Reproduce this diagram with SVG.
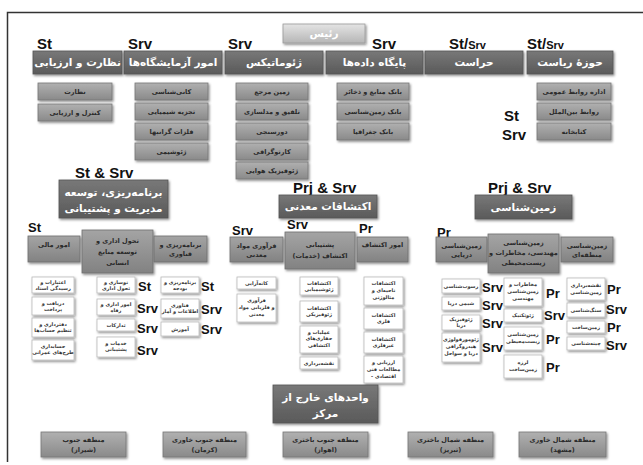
<svg xmlns="http://www.w3.org/2000/svg" width="643" height="465" viewBox="0 0 643 465">
<defs>
<linearGradient id="gdk" x1="0" y1="0" x2="0" y2="1"><stop offset="0" stop-color="#787878"/><stop offset="1" stop-color="#5a5a5a"/></linearGradient>
<linearGradient id="gmd" x1="0" y1="0" x2="0" y2="1"><stop offset="0" stop-color="#b0b0b0"/><stop offset="1" stop-color="#8a8a8a"/></linearGradient>
<linearGradient id="gm2" x1="0" y1="0" x2="0" y2="1"><stop offset="0" stop-color="#a4a4a4"/><stop offset="1" stop-color="#828282"/></linearGradient>
<linearGradient id="glt" x1="0" y1="0" x2="0" y2="1"><stop offset="0" stop-color="#e4e4e4"/><stop offset="1" stop-color="#b6b6b6"/></linearGradient>
<filter id="sh" x="-20%" y="-20%" width="140%" height="150%"><feDropShadow dx="1.2" dy="1.5" stdDeviation="0.9" flood-color="#000" flood-opacity="0.45"/></filter>
</defs>
<style>
.dk{fill:url(#gdk);stroke:#555;stroke-width:0.8;filter:url(#sh)}
.md{fill:url(#gmd);stroke:#777;stroke-width:0.8;filter:url(#sh)}
.m2{fill:url(#gm2);stroke:#6f6f6f;stroke-width:0.8;filter:url(#sh)}
.lt{fill:url(#glt);stroke:#999;stroke-width:0.8;filter:url(#sh)}
.wt{fill:#fff;stroke:#bbb;stroke-width:0.8;filter:url(#sh)}
.td{font-family:"DejaVu Sans",sans-serif;font-size:10.5px;fill:#fff;text-anchor:middle;font-weight:bold}
.tm{font-family:"DejaVu Sans",sans-serif;font-size:6.5px;fill:#2a2a2a;text-anchor:middle;font-weight:bold}
.tw{font-family:"DejaVu Sans",sans-serif;font-size:5px;fill:#333;text-anchor:middle;font-weight:bold}
.lb{font-family:"Liberation Sans",Arial,sans-serif;font-weight:bold;font-size:15px;fill:#111}
.ls{font-family:"Liberation Sans",Arial,sans-serif;font-weight:bold;font-size:13px;fill:#111}
</style>
<rect width="643" height="465" fill="#fff"/>
<path d="M7.5,462 V12.5 H643" fill="none" stroke="#333" stroke-width="1.5"/>
<g id="connectors"/>

<g id="labels">
<text class="lb" x="37" y="49">St</text>
<text class="lb" x="128" y="49">Srv</text>
<text class="lb" x="228" y="49">Srv</text>
<text class="lb" x="372" y="49">Srv</text>
<text class="lb" x="449" y="49">St/<tspan font-size="11">Srv</tspan></text>
<text class="lb" x="527" y="49">St/<tspan font-size="11">Srv</tspan></text>
<text class="lb" x="504" y="121">St</text>
<text class="lb" x="502" y="140">Srv</text>
<text class="lb" x="75" y="178" font-size="16">St &amp; Srv</text>
<text class="lb" x="293" y="193" font-size="16">Prj &amp; Srv</text>
<text class="lb" x="488" y="193" font-size="16">Prj &amp; Srv</text>
<text class="ls" x="28" y="232">St</text>
<text class="ls" x="232" y="235">Srv</text>
<text class="ls" x="287" y="229">Srv</text>
<text class="ls" x="359" y="233">Pr</text>
<text class="ls" x="437" y="237">Pr</text>
<text class="ls" x="138" y="291">St</text>
<text class="ls" x="137" y="313">Srv</text>
<text class="ls" x="137" y="333">Srv</text>
<text class="ls" x="137" y="355">Srv</text>
<text class="ls" x="201" y="291">St</text>
<text class="ls" x="201" y="314">Srv</text>
<text class="ls" x="201" y="334">Srv</text>
<text class="ls" x="482" y="292">Srv</text>
<text class="ls" x="482" y="310">Srv</text>
<text class="ls" x="482" y="328">Srv</text>
<text class="ls" x="482" y="352">Srv</text>
<text class="ls" x="546" y="298">Pr</text>
<text class="ls" x="544" y="320">Srv</text>
<text class="ls" x="546" y="344">Pr</text>
<text class="ls" x="546" y="372">Pr</text>
<text class="ls" x="607" y="294">Pr</text>
<text class="ls" x="606" y="314">Srv</text>
<text class="ls" x="607" y="332">Pr</text>
<text class="ls" x="606" y="350">Srv</text>
</g>

<g id="n-raees"><rect class="lt" x="283" y="24" width="82" height="19"/><text class="td" x="324" y="37" fill="#f4f4f4" font-weight="normal">رئیس</text></g>

<g id="n-nezarat-arzyabi"><rect class="dk" x="33" y="51" width="89" height="23"/><text class="td" x="77.5" y="66">نظارت و ارزیابی</text></g>
<g id="n-azmayeshgah"><rect class="dk" x="124" y="51" width="98" height="23"/><text class="td" x="173" y="66">امور آزمایشگاه‌ها</text></g>
<g id="n-geomatics"><rect class="dk" x="225" y="51" width="98" height="23"/><text class="td" x="274" y="66">ژئوماتیکس</text></g>
<g id="n-database"><rect class="dk" x="326" y="51" width="97" height="23"/><text class="td" x="374.5" y="66">پایگاه داده‌ها</text></g>
<g id="n-herasat"><rect class="dk" x="425" y="51" width="98" height="23"/><text class="td" x="474" y="66">حراست</text></g>
<g id="n-riasat"><rect class="dk" x="527" y="51" width="86" height="23"/><text class="td" x="570" y="66">حوزهٔ ریاست</text></g>

<g id="n-nezarat"><rect class="md" x="38" y="83" width="74" height="17"/><text class="tm" x="75" y="94">نظارت</text></g>
<g id="n-kontrol"><rect class="md" x="38" y="104" width="74" height="17"/><text class="tm" x="75" y="115">کنترل و ارزیابی</text></g>

<g id="n-kani"><rect class="md" x="135" y="83" width="73" height="17"/><text class="tm" x="171.5" y="94">کانی‌شناسی</text></g>
<g id="n-tajzie"><rect class="md" x="135" y="103" width="73" height="17"/><text class="tm" x="171.5" y="114">تجزیه شیمیایی</text></g>
<g id="n-felezat"><rect class="md" x="135" y="123" width="73" height="17"/><text class="tm" x="171.5" y="134">فلزات گرانبها</text></g>
<g id="n-geoshimi"><rect class="md" x="135" y="143" width="73" height="17"/><text class="tm" x="171.5" y="154">ژئوشیمی</text></g>

<g id="n-zamin-marja"><rect class="md" x="236" y="83" width="72" height="17"/><text class="tm" x="272" y="94">زمین مرجع</text></g>
<g id="n-talfigh"><rect class="md" x="236" y="103" width="72" height="17"/><text class="tm" x="272" y="114">تلفیق و مدلسازی</text></g>
<g id="n-doursanji"><rect class="md" x="236" y="123" width="72" height="17"/><text class="tm" x="272" y="134">دورسنجی</text></g>
<g id="n-kartography"><rect class="md" x="236" y="143" width="72" height="17"/><text class="tm" x="272" y="154">کارتوگرافی</text></g>
<g id="n-geophysic-havaei"><rect class="md" x="236" y="162" width="72" height="17"/><text class="tm" x="272" y="173">ژئوفیزیک هوایی</text></g>

<g id="n-bank-manabe"><rect class="md" x="337" y="83" width="72" height="17"/><text class="tm" x="373" y="94">بانک منابع و ذخائر</text></g>
<g id="n-bank-zamin"><rect class="md" x="337" y="103" width="72" height="17"/><text class="tm" x="373" y="114">بانک زمین‌شناسی</text></g>
<g id="n-bank-joghrafia"><rect class="md" x="337" y="123" width="72" height="17"/><text class="tm" x="373" y="134">بانک جغرافیا</text></g>

<g id="n-ravabet-omoomi"><rect class="md" x="537" y="83" width="74" height="17"/><text class="tm" x="574" y="94">اداره روابط عمومی</text></g>
<g id="n-ravabet-bein"><rect class="md" x="537" y="103" width="74" height="17"/><text class="tm" x="574" y="114">روابط بین‌الملل</text></g>
<g id="n-ketabkhane"><rect class="md" x="537" y="123" width="74" height="17"/><text class="tm" x="574" y="134">کتابخانه</text></g>

<g id="n-barnamerizi-tosee"><rect class="dk" x="59" y="180" width="109" height="38"/><text class="td" x="113.5" y="196">برنامه‌ریزی، توسعه</text><text class="td" x="113.5" y="212">مدیریت و پشتیبانی</text></g>
<g id="n-ekteshafat-madani"><rect class="dk" x="279" y="195" width="98" height="23"/><text class="td" x="328" y="210">اکتشافات معدنی</text></g>
<g id="n-zaminshenasi"><rect class="dk" x="475" y="195" width="97" height="24"/><text class="td" x="523.5" y="211">زمین‌شناسی</text></g>

<g id="n-mali"><rect class="m2" x="28" y="236" width="52" height="26"/><text class="tm" x="54" y="247">امور مالی</text></g>
<g id="n-tahavol"><rect class="m2" x="82" y="230" width="71" height="43"/><text class="tm" x="117.5" y="243" font-size="7.5">تحول اداری و</text><text class="tm" x="117.5" y="254" font-size="7.5">توسعه منابع</text><text class="tm" x="117.5" y="265" font-size="7.5">انسانی</text></g>
<g id="n-barname-fanavari"><rect class="m2" x="154" y="236" width="53" height="26"/><text class="tm" x="180.5" y="247">برنامه‌ریزی و</text><text class="tm" x="180.5" y="256">فناوری</text></g>
<g id="n-faravari"><rect class="m2" x="230" y="237" width="53" height="25"/><text class="tm" x="256.5" y="248">فرآوری مواد</text><text class="tm" x="256.5" y="257">معدنی</text></g>
<g id="n-poshtibani"><rect class="m2" x="285" y="232" width="70" height="37"/><text class="tm" x="320" y="247">پشتیبانی</text><text class="tm" x="320" y="258">(خدمات) اکتشاف</text></g>
<g id="n-omur-ekteshaf"><rect class="m2" x="357" y="237" width="51" height="25"/><text class="tm" x="382.5" y="247">امور اکتشاف</text></g>
<g id="n-daryaei"><rect class="m2" x="436" y="237" width="51" height="25"/><text class="tm" x="461.5" y="248">زمین‌شناسی</text><text class="tm" x="461.5" y="257">دریایی</text></g>
<g id="n-mohandesi"><rect class="m2" x="488" y="234" width="71" height="39"/><text class="tm" x="523.5" y="245">زمین‌شناسی</text><text class="tm" x="523.5" y="255">مهندسی، مخاطرات و</text><text class="tm" x="523.5" y="265">زیست‌محیطی</text></g>
<g id="n-mantaghei"><rect class="m2" x="561" y="237" width="52" height="25"/><text class="tm" x="587" y="248">زمین‌شناسی</text><text class="tm" x="587" y="257">منطقه‌ای</text></g>

<g id="n-etebarat"><rect class="wt" x="32" y="277" width="42" height="16"/><text class="tw" x="53" y="284">اعتبارات و</text><text class="tw" x="53" y="290">رسیدگی اسناد</text></g>
<g id="n-daryaft"><rect class="wt" x="32" y="297" width="42" height="18"/><text class="tw" x="53" y="305">دریافت و</text><text class="tw" x="53" y="311">پرداخت</text></g>
<g id="n-daftardari"><rect class="wt" x="32" y="318" width="42" height="19"/><text class="tw" x="53" y="326">دفترداری و</text><text class="tw" x="53" y="332">تنظیم حساب‌ها</text></g>
<g id="n-hesabdari"><rect class="wt" x="32" y="340" width="42" height="20"/><text class="tw" x="53" y="348">حسابداری</text><text class="tw" x="53" y="354">طرح‌های عمرانی</text></g>

<g id="n-nosazi"><rect class="wt" x="97" y="277" width="38" height="16"/><text class="tw" x="116" y="284">نوسازی و</text><text class="tw" x="116" y="290">تحول اداری</text></g>
<g id="n-edari-refah"><rect class="wt" x="97" y="299" width="38" height="16"/><text class="tw" x="116" y="306">امور اداری و</text><text class="tw" x="116" y="312">رفاه</text></g>
<g id="n-tadarokat"><rect class="wt" x="97" y="319" width="38" height="12"/><text class="tw" x="116" y="327">تدارکات</text></g>
<g id="n-khadamat"><rect class="wt" x="97" y="337" width="38" height="20"/><text class="tw" x="116" y="345">خدمات و</text><text class="tw" x="116" y="351">پشتیبانی</text></g>

<g id="n-budje"><rect class="wt" x="161" y="277" width="38" height="16"/><text class="tw" x="180" y="284">برنامه‌ریزی و</text><text class="tw" x="180" y="290">بودجه</text></g>
<g id="n-fanavari-etelaat"><rect class="wt" x="161" y="299" width="38" height="19"/><text class="tw" x="180" y="307">فناوری</text><text class="tw" x="180" y="313">اطلاعات و آمار</text></g>
<g id="n-amoozesh"><rect class="wt" x="161" y="322" width="38" height="14"/><text class="tw" x="180" y="331">آموزش</text></g>

<g id="n-kanearaei"><rect class="wt" x="237" y="277" width="39" height="12"/><text class="tw" x="256.5" y="285">کانه‌آرایی</text></g>
<g id="n-faravari-felez"><rect class="wt" x="237" y="294" width="39" height="28"/><text class="tw" x="256.5" y="302">فرآوری</text><text class="tw" x="256.5" y="309">و فلزیابی مواد</text><text class="tw" x="256.5" y="316">معدنی</text></g>

<g id="n-ek-geoshimi"><rect class="wt" x="300" y="277" width="38" height="18"/><text class="tw" x="319" y="285">اکتشافات</text><text class="tw" x="319" y="291">ژئوشیمیایی</text></g>
<g id="n-ek-geofizik"><rect class="wt" x="300" y="301" width="38" height="21"/><text class="tw" x="319" y="310">اکتشافات</text><text class="tw" x="319" y="316">ژئوفیزیکی</text></g>
<g id="n-amaliat"><rect class="wt" x="300" y="326" width="38" height="27"/><text class="tw" x="319" y="334">عملیات و</text><text class="tw" x="319" y="340">حفاری‌های</text><text class="tw" x="319" y="347">اکتشافی</text></g>
<g id="n-naghshebardari"><rect class="wt" x="300" y="357" width="38" height="12"/><text class="tw" x="319" y="365">نقشه‌برداری</text></g>

<g id="n-ek-nahie"><rect class="wt" x="364" y="277" width="39" height="28"/><text class="tw" x="383.5" y="285">اکتشافات</text><text class="tw" x="383.5" y="292">ناحیه‌ای و</text><text class="tw" x="383.5" y="299">متالوژنی</text></g>
<g id="n-ek-felezi"><rect class="wt" x="364" y="308" width="39" height="21"/><text class="tw" x="383.5" y="317">اکتشافات</text><text class="tw" x="383.5" y="323">فلزی</text></g>
<g id="n-ek-gheirfelezi"><rect class="wt" x="364" y="332" width="39" height="21"/><text class="tw" x="383.5" y="341">اکتشافات</text><text class="tw" x="383.5" y="347">غیرفلزی</text></g>
<g id="n-arzyabi-fani"><rect class="wt" x="364" y="356" width="39" height="27"/><text class="tw" x="383.5" y="364">ارزیابی و</text><text class="tw" x="383.5" y="371">مطالعات فنی</text><text class="tw" x="383.5" y="378">- اقتصادی</text></g>

<g id="n-rosoob"><rect class="wt" x="442" y="279" width="38" height="14"/><text class="tw" x="461" y="288">رسوب‌شناسی</text></g>
<g id="n-shimi-darya"><rect class="wt" x="442" y="297" width="38" height="13"/><text class="tw" x="461" y="305">شیمی دریا</text></g>
<g id="n-geofizik-darya"><rect class="wt" x="442" y="315" width="38" height="15"/><text class="tw" x="461" y="321">ژئوفیزیک</text><text class="tw" x="461" y="327">دریا</text></g>
<g id="n-geomorfology"><rect class="wt" x="442" y="333" width="38" height="29"/><text class="tw" x="461" y="341">ژئومورفولوژی</text><text class="tw" x="461" y="348">هیدروگرافی</text><text class="tw" x="461" y="355">دریا و سواحل</text></g>

<g id="n-mokhaterat"><rect class="wt" x="504" y="278" width="38" height="28"/><text class="tw" x="523" y="286">مخاطرات و</text><text class="tw" x="523" y="293">زمین‌شناسی</text><text class="tw" x="523" y="300">مهندسی</text></g>
<g id="n-geotechnic"><rect class="wt" x="504" y="309" width="38" height="13"/><text class="tw" x="523" y="317">ژئوتکنیک</text></g>
<g id="n-zist"><rect class="wt" x="504" y="327" width="38" height="23"/><text class="tw" x="523" y="336">زمین‌شناسی</text><text class="tw" x="523" y="343">زیست‌محیطی</text></g>
<g id="n-larze"><rect class="wt" x="504" y="355" width="38" height="23"/><text class="tw" x="523" y="364">لرزه</text><text class="tw" x="523" y="371">زمین‌ساخت</text></g>

<g id="n-naghshe-zamin"><rect class="wt" x="567" y="278" width="38" height="22"/><text class="tw" x="586" y="287">نقشه‌برداری</text><text class="tw" x="586" y="294">زمین‌شناسی</text></g>
<g id="n-sang"><rect class="wt" x="567" y="303" width="38" height="14"/><text class="tw" x="586" y="312">سنگ‌شناسی</text></g>
<g id="n-zaminsakht"><rect class="wt" x="567" y="321" width="38" height="12"/><text class="tw" x="586" y="329">زمین‌ساخت</text></g>
<g id="n-chine"><rect class="wt" x="567" y="337" width="38" height="13"/><text class="tw" x="586" y="345">چینه‌شناسی</text></g>

<g id="n-kharej"><rect class="dk" x="273" y="385" width="105" height="38"/><text class="td" x="325.5" y="401" font-size="12">واحدهای خارج از</text><text class="td" x="325.5" y="417" font-size="12">مرکز</text></g>

<g id="n-shiraz"><rect class="md" x="41" y="432" width="85" height="25"/><text class="tm" x="83.5" y="442">منطقه جنوب</text><text class="tm" x="83.5" y="452">(شیراز)</text></g>
<g id="n-kerman"><rect class="md" x="163" y="432" width="83" height="25"/><text class="tm" x="204.5" y="442">منطقه جنوب خاوری</text><text class="tm" x="204.5" y="452">(کرمان)</text></g>
<g id="n-ahvaz"><rect class="md" x="283" y="432" width="85" height="25"/><text class="tm" x="325.5" y="442">منطقه جنوب باختری</text><text class="tm" x="325.5" y="452">(اهواز)</text></g>
<g id="n-tabriz"><rect class="md" x="408" y="432" width="85" height="25"/><text class="tm" x="450.5" y="442">منطقه شمال باختری</text><text class="tm" x="450.5" y="452">(تبریز)</text></g>
<g id="n-mashhad"><rect class="md" x="519" y="432" width="87" height="25"/><text class="tm" x="562.5" y="442">منطقه شمال خاوری</text><text class="tm" x="562.5" y="452">(مشهد)</text></g>
</svg>
